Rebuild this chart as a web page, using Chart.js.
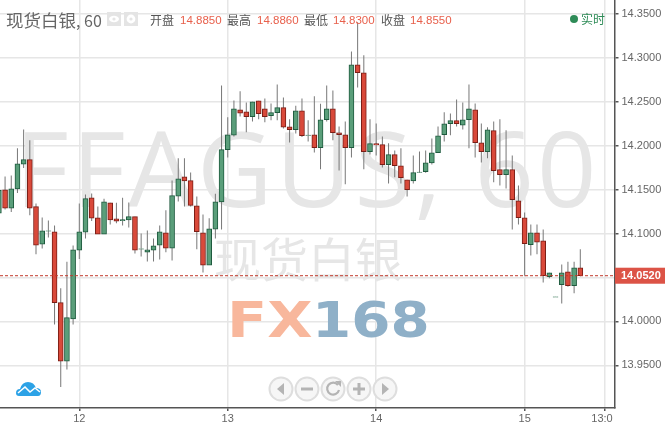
<!DOCTYPE html>
<html lang="zh">
<head>
<meta charset="utf-8">
<script src="https://cdn.jsdelivr.net/npm/chart.js@4"></script>
<style>
    html, body { margin: 0; padding: 0; background: #fff; }
    #wrap { position: relative; width: 668px; height: 429px; overflow: hidden; }
    #myChart { position: absolute; left: 0; top: 0; }
    .t { position: absolute; white-space: nowrap; pointer-events: none; }
    .lab { font: 12px "Noto Sans CJK SC"; color: #555; top: 12px; line-height: 16px; }
    .num { font: 11.5px "Liberation Sans"; color: #e8604c; top: 12px; line-height: 16px; }
    svg { position: absolute; }
</style>
</head>

<body>
<div id="wrap">
    <canvas id="myChart" width="668" height="429"></canvas>

    <div class="t" style="left:6px;top:9px;font:17.5px/22px 'Noto Sans CJK SC';color:#666">现货白银<span style="font-size:16px">, 60</span></div>
    <svg style="left:107px;top:12px" width="32" height="14">
        <rect x="0" y="0" width="14" height="14" fill="#e4e4e4"/>
        <ellipse cx="7" cy="7" rx="5" ry="3.2" fill="#fff"/>
        <circle cx="7" cy="7" r="1.6" fill="#e4e4e4"/>
        <rect x="17" y="0" width="14" height="14" fill="#e4e4e4"/>
        <circle cx="24" cy="7" r="4.4" fill="#fff"/>
        <circle cx="24" cy="7" r="1.6" fill="#e4e4e4"/>
    </svg>
    <div class="t lab" style="left:150px">开盘</div>
    <div class="t num" style="left:180px">14.8850</div>
    <div class="t lab" style="left:227px">最高</div>
    <div class="t num" style="left:257px">14.8860</div>
    <div class="t lab" style="left:304px">最低</div>
    <div class="t num" style="left:333px">14.8300</div>
    <div class="t lab" style="left:381px">收盘</div>
    <div class="t num" style="left:410px">14.8550</div>

    <svg style="left:569px;top:14px" width="10" height="10"><circle cx="5" cy="5" r="4" fill="#2e8b57"/></svg>
    <div class="t" style="left:581px;top:11px;font:12px/16px 'Noto Sans CJK SC';color:#2e8b57">实时</div>

    <!-- cloud logo -->
    <svg style="left:15px;top:380px" width="28" height="18" viewBox="0 0 28 18">
        <path d="M1 13 Q1 9 5 9 Q7 2 13 2 Q19 2 21 8 Q26 8 26 12 Q26 16 23 16 L4 16 Q1 16 1 13Z" fill="#2ca2e6"/>
        <path d="M3 13 L10 7 L15 12 L20 8 L25 12" stroke="#fff" stroke-width="1.6" fill="none"/>
    </svg>

    <!-- zoom / scroll buttons -->
    <svg style="left:266px;top:374px" width="136" height="30" viewBox="0 0 136 30">
        <g fill="#f6f6f6" stroke="#dedede" stroke-width="2">
            <circle cx="15" cy="15" r="11.5"/><circle cx="41" cy="15" r="11.5"/><circle cx="67" cy="15" r="11.5"/>
            <circle cx="93" cy="15" r="11.5"/><circle cx="119" cy="15" r="11.5"/>
        </g>
        <g fill="#b4b4b4">
            <path d="M18 9 L18 21 L11 15Z"/>
            <rect x="35" y="13.5" width="12" height="3"/>
            <rect x="87" y="13.5" width="12" height="3"/><rect x="91.5" y="9" width="3" height="12"/>
            <path d="M116 9 L116 21 L123 15Z"/>
        </g>
        <path d="M72 11 A6 6 0 1 0 73 16" fill="none" stroke="#b4b4b4" stroke-width="2.2"/>
        <path d="M69 7 L75 7 L75 13Z" fill="#b4b4b4"/>
    </svg>
</div>

<script>
    // hourly candles, index 0 is the one cut by the left edge
    const opens = [14.1233,14.1499,14.1290,14.1507,14.1791,14.1841,14.1306,14.0880,14.1028,14.1021,
        14.0213,13.9548,14.0027,14.0812,14.1017,14.1408,14.1180,14.0994,14.1351,14.1169,
        14.1146,14.1154,14.1192,14.0823,14.0789,14.0812,14.0869,14.1009,14.0835,14.1427,
        14.1647,14.1602,14.1317,14.1009,14.0641,14.1051,14.1359,14.1955,14.2121,14.2410,
        14.2387,14.2330,14.2512,14.2421,14.2342,14.2376,14.2433,14.2216,14.2182,14.2398,
        14.2117,14.2125,14.1977,14.2296,14.2421,14.2148,14.2125,14.1977,14.2922,14.2831,
        14.1932,14.2023,14.2012,14.1784,14.1898,14.1772,14.1613,14.1598,14.1696,14.1704,
        14.1803,14.1920,14.2125,14.2250,14.2285,14.2235,14.2296,14.2410,14.2034,14.1932,
        14.2171,14.1727,14.1670,14.1727,14.1374,14.1180,14.0873,14.1009,14.0918,14.0509,
        14.0277,14.0417,14.0565,14.0406,14.0611];
    const highs = [14.1550,14.1651,14.1662,14.1970,14.2186,14.2061,14.1343,14.1184,14.1150,14.1093,
        14.0376,14.0679,14.0865,14.1343,14.1446,14.1457,14.1309,14.1397,14.1351,14.1351,
        14.1408,14.1355,14.1192,14.1002,14.1036,14.0945,14.1093,14.1264,14.1605,14.1856,
        14.1856,14.1696,14.1423,14.1218,14.1173,14.1454,14.2687,14.2323,14.2516,14.2619,
        14.2493,14.2501,14.2512,14.2539,14.2482,14.2698,14.2550,14.2300,14.2455,14.2539,
        14.2289,14.2562,14.2478,14.2687,14.2630,14.2220,14.2277,14.3074,14.3405,14.3029,
        14.2300,14.2254,14.2106,14.2027,14.1947,14.1970,14.1613,14.1890,14.1935,14.1947,
        14.2083,14.2220,14.2380,14.2368,14.2527,14.2493,14.2698,14.2482,14.2254,14.2209,
        14.2277,14.2300,14.2175,14.1890,14.1548,14.1241,14.1104,14.1104,14.1047,14.0554,
        14.0281,14.0649,14.0679,14.0679,14.0820];
    const lows = [14.1200,14.1275,14.1245,14.1461,14.1746,14.1207,14.0763,14.0831,14.0956,13.9966,
        13.9252,13.9453,13.9966,14.0710,14.0945,14.1142,14.0994,14.0994,14.1104,14.1116,
        14.1093,14.1070,14.0774,14.0740,14.0683,14.0683,14.0706,14.0786,14.0694,14.1366,
        14.1309,14.1309,14.0820,14.0558,14.0641,14.0945,14.1047,14.1867,14.2106,14.2334,
        14.2152,14.2277,14.2300,14.2266,14.2289,14.2289,14.2197,14.2038,14.2140,14.2099,
        14.2049,14.1924,14.1731,14.2277,14.2061,14.1719,14.1560,14.1867,14.2664,14.1731,
        14.1901,14.1890,14.1753,14.1571,14.1640,14.1571,14.1423,14.1571,14.1693,14.1693,
        14.1787,14.1917,14.2049,14.2118,14.2220,14.2186,14.1970,14.1867,14.1810,14.1856,
        14.1583,14.1548,14.1514,14.1047,14.1104,14.0520,14.0751,14.0763,14.0444,14.0490,
        14.0277,14.0205,14.0395,14.0319,14.0515];
    const closes = [14.1492,14.1290,14.1510,14.1795,14.1841,14.1290,14.0869,14.1032,14.1032,14.0213,
        13.9548,14.0042,14.0816,14.1021,14.1397,14.1176,14.0994,14.1362,14.1154,14.1142,
        14.1158,14.1192,14.0812,14.0827,14.0816,14.0861,14.1021,14.0835,14.1431,14.1624,
        14.1598,14.1321,14.1021,14.0641,14.1055,14.1362,14.1955,14.2125,14.2421,14.2372,
        14.2330,14.2501,14.2364,14.2330,14.2376,14.2433,14.2212,14.2182,14.2398,14.2114,
        14.2121,14.1977,14.2296,14.2421,14.2148,14.2125,14.1977,14.2922,14.2831,14.1932,
        14.2023,14.2008,14.1784,14.1898,14.1772,14.1636,14.1499,14.1693,14.1700,14.1806,
        14.1920,14.2114,14.2250,14.2285,14.2250,14.2296,14.2421,14.2034,14.1932,14.2182,
        14.1715,14.1670,14.1727,14.1385,14.1180,14.0884,14.1009,14.0903,14.0520,14.0554,
        14.0281,14.0554,14.0406,14.0611,14.0520];

    const lastPrice = 14.052;
    const yTicks = [13.95, 14.0, 14.05, 14.1, 14.15, 14.2, 14.25, 14.3, 14.35];
    const xTickAt = [13, 37, 61, 85, 98];
    const xTickLabels = ['12', '13', '14', '15', '13:0\u00a0\u00a0'];

    const xMin = 0.18, xMax = 99.53;
    const up = (i) => closes[i] >= opens[i];

    // watermark goes under the candles, price tag over everything
    const decorations = {
        id: 'decorations',
        beforeDatasetsDraw(chart) {
            const ctx = chart.ctx;
            ctx.save();
            ctx.textBaseline = 'alphabetic';
            ctx.fillStyle = '#e6e6e6';
            ctx.font = '104px "Open Sans"';
            ctx.letterSpacing = '3px';
            ctx.fillText('FFAGUS, 60', 15, 207);
            ctx.letterSpacing = '0px';
            ctx.font = '47px "Noto Sans CJK SC"';
            ctx.fillText('现货白银', 214, 277);

            ctx.font = 'bold 49px "DejaVu Sans"';
            ctx.save();
            ctx.translate(227, 337);
            ctx.scale(1.2, 1);
            ctx.fillStyle = '#f8b79c';
            ctx.fillText('FX', 0, 0);
            ctx.restore();
            ctx.save();
            ctx.translate(312, 337);
            ctx.scale(1.15, 1);
            ctx.fillStyle = '#8fb0c8';
            ctx.fillText('168', 0, 0);
            ctx.restore();
            ctx.restore();
        },
        afterDraw(chart) {
            const ctx = chart.ctx;
            const y = chart.scales.y.getPixelForValue(lastPrice);
            ctx.save();
            ctx.fillStyle = '#dc5346';
            ctx.fillRect(615, y - 8, 50, 16);
            ctx.fillStyle = '#fff';
            ctx.font = 'bold 11px "Liberation Sans"';
            ctx.textBaseline = 'middle';
            ctx.fillText(lastPrice.toFixed(4), 621, y + 0.5);
            ctx.restore();
        }
    };

    const config = {
        type: 'bar',
        data: {
            datasets: [
                {
                    type: 'line',
                    data: [{ x: xMin, y: lastPrice }, { x: xMax, y: lastPrice }],
                    borderColor: '#c0392b',
                    borderWidth: 1,
                    borderDash: [3, 2],
                    pointRadius: 0,
                    order: 0
                },
                {
                    data: opens.map((o, i) => ({ x: i, y: [o, closes[i]] })),
                    backgroundColor: opens.map((o, i) => up(i) ? '#5a9e7a' : '#d9493a'),
                    borderColor: opens.map((o, i) => up(i) ? '#1e5a3e' : '#7a1e16'),
                    borderWidth: 1,
                    borderSkipped: false,
                    barThickness: 5,
                    grouped: false,
                    order: 1
                },
                {
                    data: highs.map((h, i) => ({ x: i, y: [lows[i], h] })),
                    backgroundColor: '#777',
                    borderWidth: 0,
                    inflateAmount: 0,
                    barThickness: 1,
                    grouped: false,
                    order: 2
                }
            ]
        },
        options: {
            responsive: false,
            animation: false,
            events: [],
            layout: { padding: 0 },
            plugins: { legend: { display: false }, tooltip: { enabled: false } },
            scales: {
                x: {
                    type: 'linear',
                    offset: false,
                    min: xMin,
                    max: xMax,
                    afterBuildTicks: (s) => { s.ticks = xTickAt.map(v => ({ value: v })); },
                    afterFit: (s) => { s.height = 21; s.paddingLeft = 0; s.paddingRight = 0; },
                    border: { color: '#555', width: 1.5 },
                    grid: { offset: false, color: '#e6e6e6', lineWidth: 1.5, tickColor: '#555', tickLength: 3 },
                    ticks: {
                        autoSkip: false,
                        maxRotation: 0,
                        padding: 1,
                        color: '#666',
                        font: { family: 'Liberation Sans', size: 11 },
                        callback: (v) => xTickLabels[xTickAt.indexOf(v)]
                    }
                },
                y: {
                    position: 'right',
                    min: 13.9014,
                    max: 14.3659,
                    afterBuildTicks: (s) => { s.ticks = yTicks.map(v => ({ value: v })); },
                    afterFit: (s) => { s.width = 53.5; s.paddingTop = 0; s.paddingBottom = 0; },
                    border: { color: '#555', width: 1.5 },
                    grid: { color: '#e6e6e6', lineWidth: 1.5, tickColor: '#555', tickLength: 4 },
                    ticks: {
                        padding: 3,
                        color: '#666',
                        font: { family: 'Liberation Sans', size: 11 },
                        callback: (v) => v.toFixed(4)
                    }
                }
            }
        },
        plugins: [decorations]
    };

    const myChart = new Chart(document.getElementById('myChart'), config);
</script>
</body>
</html>
